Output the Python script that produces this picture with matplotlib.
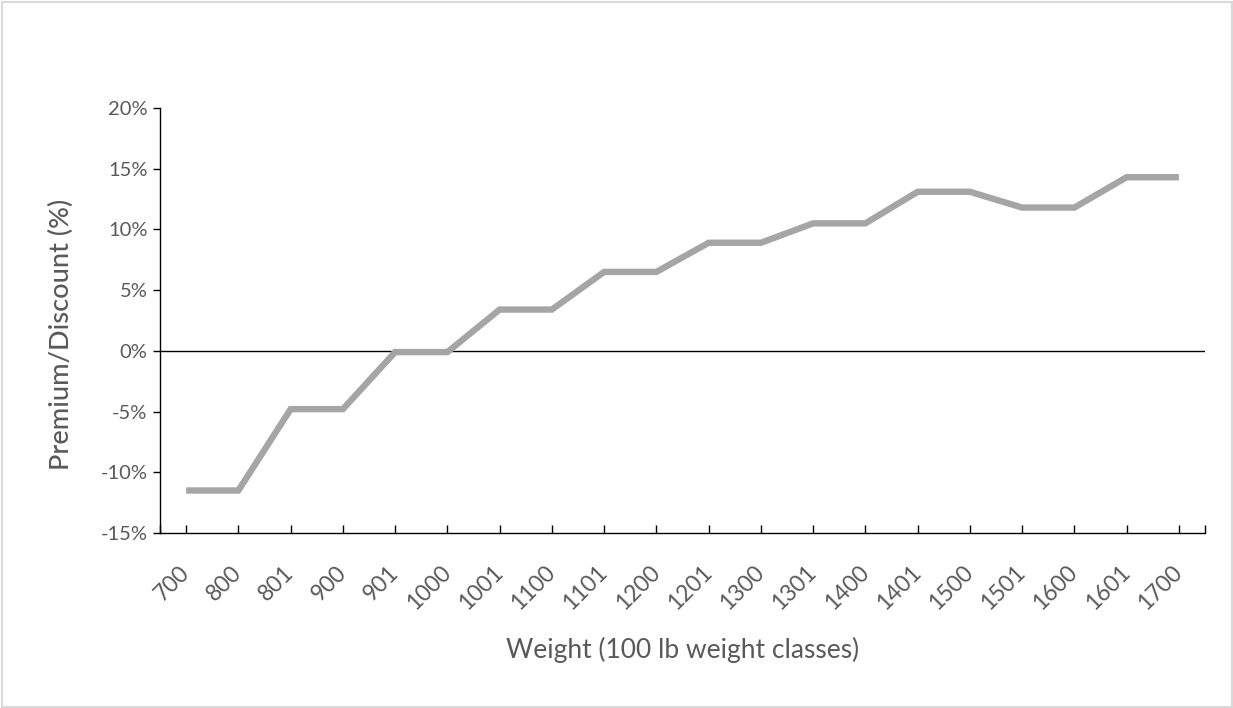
import matplotlib
matplotlib.use("Agg")
import matplotlib.pyplot as plt
from matplotlib.patches import Rectangle
from matplotlib.ticker import FuncFormatter, FixedLocator

categories = ["700", "800", "801", "900", "901", "1000", "1001", "1100", "1101", "1200",
              "1201", "1300", "1301", "1400", "1401", "1500", "1501", "1600", "1601", "1700"]
premium = [-11.5, -11.5, -4.8, -4.8, -0.1, -0.1, 3.4, 3.4, 6.5, 6.5,
           8.9, 8.9, 10.5, 10.5, 13.1, 13.1, 11.8, 11.8, 14.3, 14.3]
yticks = [-15, -10, -5, 0, 5, 10, 15, 20]

plt.rcParams['font.family'] = ['Lato', 'DejaVu Sans']
txt = '#595959'

W, H = 1233, 708
fig = plt.figure(figsize=(W / 100, H / 100), dpi=100)
ax = fig.add_axes([160 / W, 1 - 533 / H, (1205 - 160) / W, (533 - 108) / H])

x = list(range(len(categories)))
ax.plot(x, premium, color='#a5a5a5', lw=4.6, solid_capstyle='butt', solid_joinstyle='miter', zorder=3)
ax.axhline(0, color='black', lw=1.0, zorder=2)

ax.set_xlim(-0.5, len(categories) - 0.5)
ax.set_ylim(-15, 20)
ax.set_yticks(yticks)
ax.yaxis.set_major_formatter(FuncFormatter(lambda v, p: f"{int(v)}%"))
ax.set_xticks(x)
ax.set_xticklabels(categories, rotation=45, ha='right', va='center', rotation_mode='anchor')
ax.xaxis.set_minor_locator(FixedLocator([-0.5, len(categories) - 0.5]))

for s in ['top', 'right']:
    ax.spines[s].set_visible(False)
for s in ['left', 'bottom']:
    ax.spines[s].set_color('black')
    ax.spines[s].set_linewidth(1.0)

ax.tick_params(axis='y', direction='out', length=5, width=1, color='black', labelsize=14.5, labelcolor=txt, pad=4)
ax.tick_params(axis='x', which='both', direction='in', length=6, width=1, color='black', labelsize=16.5, labelcolor=txt, pad=26)

ax.set_xlabel("Weight (100 lb weight classes)", fontsize=19, color=txt)
ax.xaxis.set_label_coords(0.5, -(650 - 533) / (533 - 108), transform=ax.transAxes)
ax.xaxis.label.set_va('center')
ax.set_ylabel("Premium/Discount (%)", fontsize=19.5, color=txt, fontweight='medium')
ax.yaxis.set_label_coords(-(160 - 61) / (1205 - 160), (533 - 334) / (533 - 108), transform=ax.transAxes)
ax.yaxis.label.set_va('center')

fig.patches.append(Rectangle((1.5 / W, 1.5 / H), (W - 3) / W, (H - 3) / H, transform=fig.transFigure,
                             fill=False, edgecolor='#d9d9d9', lw=1.5))

fig.savefig("out.png", dpi=100, facecolor='white')
